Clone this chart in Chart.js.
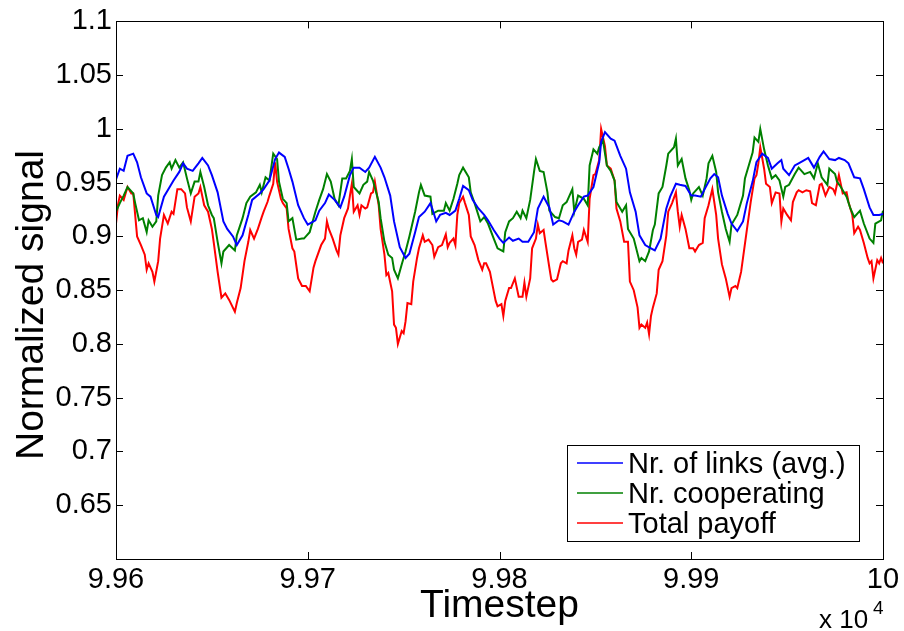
<!DOCTYPE html>
<html lang="en">
<head>
    <meta charset="UTF-8">
    <title>Normalized signal</title>
    <script src="https://cdn.jsdelivr.net/npm/chart.js"></script>
    <style>
        body { margin: 0; background: #fff; }
        #wrap { width: 904px; height: 631px; }
    </style>
</head>
<body>
    <div id="wrap"><canvas id="signalChart" width="904" height="631"></canvas></div>

    <script>
        // x tick values (timesteps) and y tick values
        const xTickValues = [99600, 99700, 99800, 99900, 100000];
        const yTickValues = [0.65, 0.7, 0.75, 0.8, 0.85, 0.9, 0.95, 1, 1.05, 1.1];

        const seriesLabels = ['Nr. of links (avg.)', 'Nr. cooperating', 'Total payoff'];
        const seriesColors = ['#0000ff', '#008000', '#ff0000'];
        const yTitle = 'Normalized signal';

        // Nr. of links (avg.)
        const linksT = [
            99600,99602,99604,99606,99609,99611,99613,99616,99618,99621,
            99622,99625,99628,99630,99633,99635,99637,99640,99643,99645,
            99648,99650,99653,99656,99658,99661,99663,99666,99669,99671,
            99675,99677,99680,99683,99685,99688,99690,99692,99695,99698,
            99700,99704,99706,99709,99711,99714,99717,99719,99722,99724,
            99727,99730,99732,99735,99738,99740,99743,99745,99748,99751,
            99753,99756,99758,99761,99764,99766,99767,99769,99772,99774,
            99777,99779,99781,99784,99786,99789,99792,99794,99797,99800,
            99802,99805,99807,99810,99812,99815,99818,99820,99823,99826,
            99828,99831,99833,99836,99839,99841,99844,99846,99849,99852,
            99853,99855,99858,99860,99863,99866,99868,99871,99873,99876,
            99879,99881,99884,99887,99889,99892,99894,99897,99900,99902,
            99905,99907,99910,99912,99914,99916,99919,99921,99924,99927,
            99929,99932,99934,99937,99940,99942,99945,99947,99948,99951,
            99954,99956,99959,99961,99964,99967,99969,99972,99975,99977,
            99980,99982,99985,99988,99990,99993,99995,99998,100000
        ];
        const linksV = [
            0.953,0.963,0.961,0.975,0.977,0.969,0.955,0.940,0.937,0.920,
            0.918,0.937,0.946,0.952,0.960,0.968,0.963,0.961,0.968,0.973,
            0.966,0.957,0.941,0.914,0.907,0.900,0.892,0.901,0.920,0.934,
            0.940,0.944,0.952,0.972,0.978,0.974,0.963,0.951,0.929,0.917,
            0.911,0.915,0.924,0.931,0.939,0.934,0.927,0.937,0.957,0.964,
            0.964,0.960,0.964,0.974,0.964,0.955,0.938,0.914,0.890,0.880,
            0.884,0.904,0.918,0.923,0.931,0.920,0.914,0.920,0.922,0.920,
            0.924,0.935,0.947,0.943,0.934,0.926,0.920,0.915,0.906,0.898,
            0.894,0.899,0.896,0.898,0.895,0.895,0.904,0.926,0.937,0.927,
            0.911,0.915,0.914,0.911,0.923,0.929,0.937,0.938,0.946,0.969,
            0.988,0.997,0.991,0.989,0.975,0.963,0.941,0.923,0.901,0.892,
            0.889,0.887,0.898,0.926,0.937,0.949,0.948,0.947,0.938,0.938,
            0.937,0.944,0.954,0.958,0.955,0.938,0.921,0.912,0.905,0.914,
            0.931,0.951,0.969,0.977,0.973,0.963,0.968,0.971,0.963,0.957,
            0.966,0.968,0.971,0.973,0.964,0.974,0.979,0.972,0.971,0.973,
            0.971,0.968,0.955,0.954,0.944,0.927,0.920,0.920,0.921
        ];

        // Nr. cooperating
        const coopT = [
            99600,99602,99604,99606,99609,99610,99612,99614,99616,99617,
            99619,99621,99622,99624,99626,99628,99629,99631,99633,99635,
            99637,99639,99641,99643,99644,99646,99648,99650,99651,99653,
            99655,99656,99659,99662,99663,99666,99668,99670,99673,99675,
            99676,99678,99680,99682,99684,99685,99687,99689,99690,99692,
            99694,99697,99698,99701,99704,99706,99708,99710,99712,99714,
            99716,99718,99720,99722,99723,99724,99727,99729,99731,99732,
            99734,99737,99738,99740,99742,99744,99745,99747,99749,99751,
            99753,99756,99758,99759,99761,99764,99765,99768,99771,99772,
            99774,99776,99778,99779,99781,99784,99785,99787,99790,99792,
            99794,99797,99799,99802,99803,99805,99807,99809,99811,99812,
            99814,99816,99818,99819,99821,99823,99825,99826,99829,99831,
            99833,99835,99838,99839,99841,99844,99846,99847,99849,99851,
            99852,99854,99856,99858,99860,99861,99864,99866,99867,99870,
            99873,99874,99876,99878,99880,99881,99883,99885,99887,99888,
            99891,99892,99893,99895,99897,99899,99900,99901,99904,99906,
            99908,99909,99911,99913,99914,99916,99918,99920,99921,99924,
            99927,99928,99930,99932,99933,99935,99936,99938,99940,99942,
            99944,99946,99948,99949,99951,99954,99956,99959,99962,99964,
            99966,99968,99971,99972,99975,99976,99978,99981,99983,99985,
            99988,99990,99993,99995,99996,99999,100000
        ];
        const coopV = [
            0.923,0.931,0.938,0.946,0.940,0.931,0.915,0.917,0.904,0.915,
            0.909,0.914,0.938,0.957,0.964,0.969,0.963,0.971,0.964,0.969,
            0.954,0.940,0.951,0.951,0.960,0.946,0.929,0.920,0.917,0.895,
            0.875,0.886,0.892,0.887,0.901,0.917,0.931,0.937,0.941,0.948,
            0.941,0.955,0.952,0.977,0.972,0.951,0.935,0.931,0.914,0.917,
            0.897,0.898,0.898,0.904,0.923,0.934,0.944,0.958,0.951,0.935,
            0.929,0.954,0.954,0.961,0.972,0.946,0.940,0.948,0.951,0.960,
            0.952,0.932,0.917,0.895,0.883,0.880,0.869,0.861,0.874,0.886,
            0.900,0.923,0.941,0.948,0.938,0.937,0.921,0.924,0.924,0.931,
            0.924,0.935,0.949,0.957,0.964,0.955,0.941,0.931,0.914,0.918,
            0.912,0.898,0.889,0.886,0.904,0.914,0.917,0.923,0.917,0.924,
            0.917,0.934,0.960,0.972,0.961,0.960,0.941,0.924,0.918,0.917,
            0.929,0.932,0.944,0.923,0.938,0.935,0.929,0.966,0.981,0.977,
            0.983,0.989,0.966,0.961,0.952,0.932,0.923,0.929,0.907,0.898,
            0.877,0.880,0.877,0.886,0.906,0.911,0.940,0.946,0.966,0.977,
            0.983,0.991,0.966,0.972,0.954,0.943,0.934,0.940,0.946,0.938,
            0.954,0.968,0.975,0.960,0.941,0.923,0.907,0.895,0.911,0.920,
            0.938,0.954,0.966,0.978,0.992,0.988,1.000,0.981,0.966,0.954,
            0.957,0.952,0.937,0.946,0.948,0.958,0.964,0.958,0.960,0.954,
            0.968,0.955,0.948,0.963,0.958,0.951,0.946,0.937,0.926,0.918,
            0.924,0.912,0.898,0.894,0.912,0.915,0.924
        ];

        // Total payoff
        const payoffT = [
            99600,99601,99602,99604,99606,99608,99609,99611,99613,99615,
            99616,99617,99619,99620,99622,99623,99625,99627,99629,99630,
            99632,99634,99636,99637,99639,99641,99643,99644,99646,99648,
            99650,99651,99653,99655,99657,99659,99662,99663,99665,99667,
            99669,99670,99672,99674,99676,99677,99679,99680,99682,99683,
            99684,99686,99687,99689,99690,99692,99693,99695,99697,99699,
            99701,99703,99704,99707,99709,99710,99711,99713,99715,99716,
            99717,99719,99721,99722,99723,99724,99726,99727,99728,99730,
            99731,99733,99734,99735,99737,99738,99740,99741,99742,99744,
            99745,99746,99747,99749,99750,99751,99752,99754,99755,99757,
            99758,99760,99761,99763,99765,99766,99768,99770,99772,99773,
            99774,99776,99777,99778,99779,99781,99782,99784,99785,99787,
            99789,99791,99792,99793,99795,99796,99798,99799,99801,99802,
            99803,99805,99806,99808,99810,99812,99813,99814,99816,99817,
            99819,99820,99821,99823,99824,99826,99827,99828,99830,99832,
            99833,99835,99836,99838,99839,99840,99841,99843,99844,99846,
            99847,99849,99850,99852,99853,99855,99856,99858,99860,99861,
            99863,99865,99867,99868,99870,99872,99873,99874,99876,99877,
            99878,99879,99880,99882,99883,99885,99887,99888,99890,99892,
            99893,99894,99895,99897,99899,99901,99902,99904,99906,99907,
            99909,99911,99913,99914,99916,99918,99920,99921,99923,99924,
            99926,99927,99929,99931,99933,99934,99935,99936,99938,99939,
            99941,99942,99944,99946,99947,99948,99950,99952,99953,99955,
            99956,99958,99960,99962,99963,99965,99967,99968,99970,99972,
            99974,99975,99977,99979,99981,99982,99984,99985,99987,99988,
            99990,99992,99993,99994,99995,99997,99998,99999,100000
        ];
        const payoffV = [
            0.912,0.929,0.938,0.934,0.946,0.940,0.940,0.900,0.892,0.883,
            0.869,0.875,0.867,0.858,0.877,0.898,0.920,0.912,0.923,0.921,
            0.944,0.944,0.940,0.927,0.914,0.937,0.940,0.946,0.929,0.923,
            0.907,0.894,0.867,0.843,0.847,0.841,0.830,0.838,0.852,0.877,
            0.895,0.906,0.898,0.907,0.918,0.923,0.932,0.938,0.949,0.969,
            0.951,0.935,0.931,0.926,0.907,0.889,0.886,0.861,0.854,0.854,
            0.849,0.871,0.877,0.892,0.898,0.914,0.907,0.898,0.887,0.883,
            0.901,0.917,0.926,0.938,0.949,0.923,0.929,0.920,0.929,0.926,
            0.927,0.940,0.941,0.951,0.929,0.907,0.883,0.864,0.866,0.849,
            0.818,0.815,0.800,0.812,0.810,0.821,0.838,0.837,0.858,0.880,
            0.889,0.901,0.895,0.897,0.892,0.881,0.890,0.892,0.902,0.890,
            0.894,0.898,0.892,0.920,0.931,0.937,0.931,0.920,0.900,0.892,
            0.878,0.869,0.875,0.875,0.867,0.858,0.840,0.835,0.837,0.826,
            0.840,0.852,0.852,0.861,0.844,0.844,0.857,0.844,0.861,0.889,
            0.898,0.911,0.903,0.906,0.894,0.871,0.860,0.858,0.860,0.875,
            0.877,0.875,0.887,0.901,0.889,0.883,0.895,0.897,0.906,0.895,
            0.935,0.957,0.958,0.971,1.000,0.984,0.966,0.963,0.952,0.926,
            0.914,0.895,0.895,0.858,0.850,0.834,0.815,0.818,0.815,0.820,
            0.809,0.826,0.834,0.847,0.869,0.877,0.901,0.923,0.931,0.941,
            0.923,0.909,0.920,0.907,0.889,0.889,0.886,0.892,0.894,0.917,
            0.929,0.944,0.920,0.898,0.874,0.861,0.844,0.852,0.854,0.852,
            0.867,0.880,0.906,0.932,0.954,0.957,0.968,0.983,0.963,0.949,
            0.946,0.931,0.941,0.940,0.914,0.926,0.920,0.915,0.932,0.941,
            0.943,0.941,0.943,0.942,0.931,0.929,0.948,0.949,0.938,0.946,
            0.944,0.940,0.957,0.940,0.941,0.932,0.920,0.903,0.909,0.906,
            0.894,0.880,0.875,0.877,0.861,0.878,0.875,0.880,0.875
        ];

        const seriesT = [linksT, coopT, payoffT];
        const seriesV = [linksV, coopV, payoffV];

        const fontFamily = '"Liberation Sans", Arial, Helvetica, sans-serif';
        Chart.defaults.font.family = fontFamily;
        Chart.defaults.color = '#000';

        // box with inward tick marks, y label, legend inside the axes, and the x 10^4 multiplier
        const matlabFrame = {
            id: 'matlabFrame',
            afterDatasetsDraw(chart) {
                const ctx = chart.ctx;
                const a = chart.chartArea;
                const xs = chart.scales.x, ys = chart.scales.y;
                ctx.save();
                ctx.strokeStyle = '#000';
                ctx.lineWidth = 1;
                ctx.strokeRect(Math.round(a.left) + 0.5, Math.round(a.top) + 0.5,
                    Math.round(a.right - a.left), Math.round(a.bottom - a.top));
                ctx.beginPath();
                xTickValues.forEach(v => {
                    const px = Math.round(xs.getPixelForValue(v)) + 0.5;
                    ctx.moveTo(px, a.bottom); ctx.lineTo(px, a.bottom - 7);
                    ctx.moveTo(px, a.top); ctx.lineTo(px, a.top + 7);
                });
                yTickValues.forEach(v => {
                    const py = Math.round(ys.getPixelForValue(v)) + 0.5;
                    ctx.moveTo(a.left, py); ctx.lineTo(a.left + 7, py);
                    ctx.moveTo(a.right, py); ctx.lineTo(a.right - 7, py);
                });
                ctx.stroke();

                // y axis label
                ctx.save();
                ctx.translate(43, 305);
                ctx.rotate(-Math.PI / 2);
                ctx.fillStyle = '#000';
                ctx.font = '39px ' + fontFamily;
                ctx.textAlign = 'center';
                ctx.textBaseline = 'alphabetic';
                ctx.fillText(yTitle, 0, 0);
                ctx.restore();

                // legend box
                const bx = 567, by = 445, bw = 292, bh = 96;
                ctx.fillStyle = '#fff';
                ctx.fillRect(bx, by, bw, bh);
                ctx.strokeRect(bx + 0.5, by + 0.5, bw, bh);
                ctx.font = '29px ' + fontFamily;
                ctx.textBaseline = 'alphabetic';
                chart.data.datasets.forEach((ds, i) => {
                    const ly = by + 18 + i * 30;
                    ctx.strokeStyle = ds.borderColor;
                    ctx.lineWidth = 1.5;
                    ctx.beginPath();
                    ctx.moveTo(577, ly); ctx.lineTo(623, ly);
                    ctx.stroke();
                    ctx.fillStyle = '#000';
                    ctx.fillText(ds.label, 628, ly + 10);
                });

                // exponent label
                ctx.fillStyle = '#000';
                ctx.font = '26px ' + fontFamily;
                ctx.fillText('x 10', 819, 628);
                ctx.font = '19px ' + fontFamily;
                ctx.fillText('4', 873, 614);
                ctx.restore();
            }
        };

        const ctx = document.getElementById('signalChart').getContext('2d');
        new Chart(ctx, {
            type: 'line',
            data: {
                datasets: seriesLabels.map((label, i) => ({
                    label: label,
                    data: seriesT[i].map((t, j) => ({ x: t, y: seriesV[i][j] })),
                    borderColor: seriesColors[i],
                    backgroundColor: seriesColors[i],
                    borderWidth: 2,
                    pointRadius: 0,
                    tension: 0,
                    fill: false
                }))
            },
            options: {
                responsive: false,
                animation: false,
                layout: { padding: { top: 20, right: 21, left: 0, bottom: 0 } },
                plugins: {
                    legend: { display: false },
                    tooltip: { enabled: false }
                },
                scales: {
                    x: {
                        type: 'linear',
                        min: 99600,
                        max: 100000,
                        grid: { display: false, drawTicks: false },
                        border: { display: false },
                        afterBuildTicks: s => { s.ticks = xTickValues.map(v => ({ value: v })); },
                        afterFit: s => { s.height = 72; },
                        ticks: {
                            font: { size: 29 },
                            padding: 4,
                            maxRotation: 0,
                            callback: v => String(+(v / 1e4).toFixed(2))
                        },
                        title: {
                            display: true,
                            text: 'Timestep',
                            font: { size: 39 },
                            padding: { top: 0, bottom: 1 }
                        }
                    },
                    y: {
                        min: 0.6,
                        max: 1.1,
                        grid: { display: false, drawTicks: false },
                        border: { display: false },
                        afterBuildTicks: s => { s.ticks = yTickValues.map(v => ({ value: v })); },
                        afterFit: s => { s.width = 116; },
                        ticks: {
                            font: { size: 29 },
                            padding: 4,
                            callback: v => String(+v.toFixed(2))
                        }
                    }
                }
            },
            plugins: [matlabFrame]
        });
    </script>
</body>
</html>
